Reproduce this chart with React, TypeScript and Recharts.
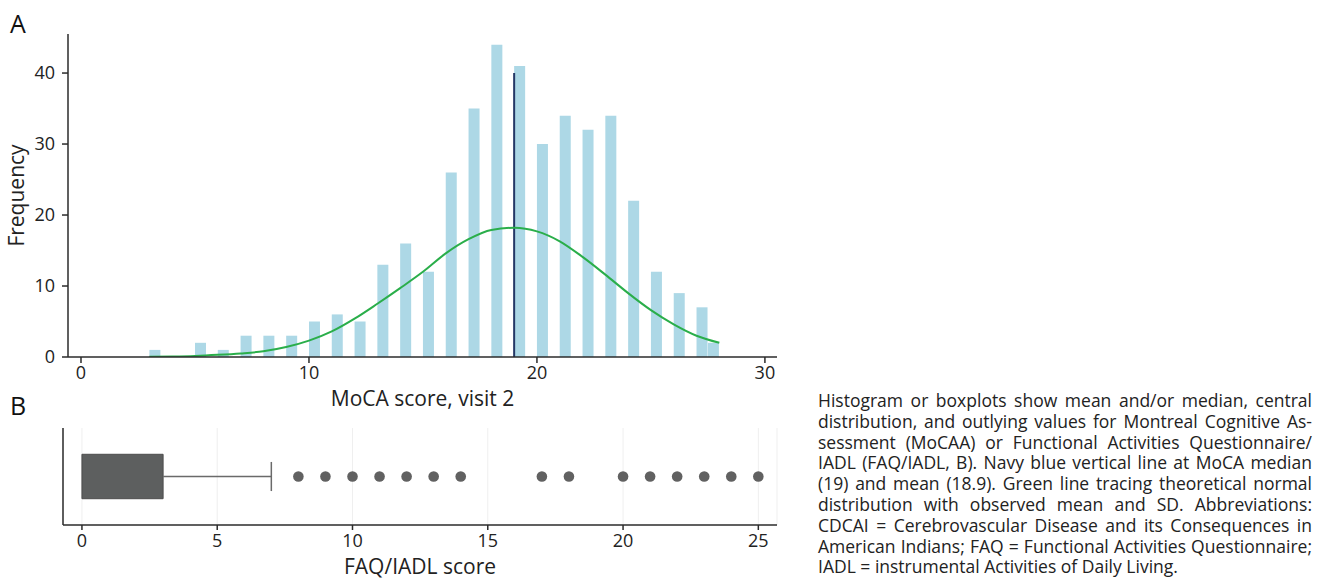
import {
  Bar,
  CartesianGrid,
  ComposedChart,
  Label,
  Line,
  ReferenceArea,
  ReferenceLine,
  Scatter,
  XAxis,
  YAxis,
} from "recharts";

// Panel A: MoCA histogram (bins are 0.5 wide, last bin is right-closed)
const binStart = [3, 5, 6, 7, 8, 9, 10, 11, 12, 13, 14, 15, 16, 17, 18, 19, 20, 21, 22, 23, 24, 25, 26, 27, 27.5];
const binCount = [1, 2, 1, 3, 3, 3, 5, 6, 5, 13, 16, 12, 26, 35, 44, 41, 30, 34, 32, 34, 22, 12, 9, 7, 2];
const BIN_WIDTH = 0.5;

// green normal-fit curve
const fitScore = [3, 4, 5, 6, 7, 8, 9, 10, 11, 12, 13, 14, 15, 16, 17, 18, 19, 20, 21, 22, 23, 24, 25, 26, 27, 28];
const fitFreq = [0.03, 0.07, 0.15, 0.3, 0.5, 0.8, 1.4, 2.3, 3.6, 5.4, 7.5, 9.7, 12.0, 14.6, 16.6, 17.9, 18.2, 17.7, 16.3, 14.1, 11.6, 9.0, 6.6, 4.6, 3.0, 2.0];

const MOCA_MEDIAN = 19;
const MEDIAN_LINE_TOP = 40;

const mocaTicks = [0, 10, 20, 30];
const freqTicks = [0, 10, 20, 30, 40];

// Panel B: FAQ/IADL boxplot
const FAQ_Q1 = 0;
const FAQ_Q3 = 3;
const FAQ_WHISKER_HI = 7;
const faqOutliers = [8, 9, 10, 11, 12, 13, 14, 17, 18, 20, 21, 22, 23, 24, 25];
const faqTicks = [0, 5, 10, 15, 20, 25];

const captionLines = [
  "Histogram or boxplots show mean and/or median, central",
  "distribution, and outlying values for Montreal Cognitive As-",
  "sessment (MoCAA) or Functional Activities Questionnaire/",
  "IADL (FAQ/IADL, B). Navy blue vertical line at MoCA median",
  "(19) and mean (18.9). Green line tracing theoretical normal",
  "distribution with observed mean and SD. Abbreviations:",
  "CDCAI = Cerebrovascular Disease and its Consequences in",
  "American Indians; FAQ = Functional Activities Questionnaire;",
  "IADL = instrumental Activities of Daily Living.",
];

const binRows = binStart.map((s, i) => ({ x: s + BIN_WIDTH / 2, freq: binCount[i] }));
const fitRows = fitScore.map((s, i) => ({ x: s, fit: fitFreq[i] }));
const outlierRows = faqOutliers.map((v) => ({ x: v, y: 0.5 }));

const FONT = "'Open Sans', sans-serif";
const AXIS = "#2b2b2b";
const TEXT = "#222";
const tickStyle = { fontSize: 18, fill: TEXT, fontFamily: FONT };
const titleStyle = { fontSize: 21, fill: TEXT, fontFamily: FONT };
const MOCA_DOMAIN: [number, number] = [-0.57, 30.53];

function MocaHistogram() {
  return (
    <ComposedChart
      width={800}
      height={420}
      data={binRows}
      margin={{ top: 34, right: 23, bottom: 33, left: 0 }}
    >
      <XAxis
        type="number"
        dataKey="x"
        domain={MOCA_DOMAIN}
        ticks={mocaTicks}
        allowDataOverflow
        height={30}
        tickSize={6}
        tickMargin={3}
        axisLine={{ stroke: AXIS, strokeWidth: 1.5 }}
        tickLine={{ stroke: AXIS, strokeWidth: 1.5 }}
        tick={tickStyle}
      >
        <Label value="MoCA score, visit 2" position="bottom" offset={4} style={titleStyle} />
      </XAxis>
      {/* separate hidden axis so the curve points don't shrink the bar band */}
      <XAxis xAxisId="fit" type="number" dataKey="x" domain={MOCA_DOMAIN} allowDataOverflow hide />
      <YAxis
        type="number"
        domain={[0, 45.5]}
        ticks={freqTicks}
        allowDataOverflow
        width={68}
        tickSize={6}
        tickMargin={7}
        axisLine={{ stroke: AXIS, strokeWidth: 1.5 }}
        tickLine={{ stroke: AXIS, strokeWidth: 1.5 }}
        tick={tickStyle}
      >
        <Label
          value="Frequency"
          angle={-90}
          position="insideLeft"
          offset={17}
          style={{ ...titleStyle, textAnchor: "middle" }}
        />
      </YAxis>
      <Bar dataKey="freq" barSize={11} fill="#add8e6" isAnimationActive={false} />
      <ReferenceLine
        segment={[
          { x: MOCA_MEDIAN, y: 0 },
          { x: MOCA_MEDIAN, y: MEDIAN_LINE_TOP },
        ]}
        stroke="#243866"
        strokeWidth={2}
      />
      <Line
        xAxisId="fit"
        data={fitRows}
        type="monotone"
        dataKey="fit"
        stroke="#2aae4a"
        strokeWidth={2}
        dot={false}
        isAnimationActive={false}
      />
    </ComposedChart>
  );
}

function FaqBoxplot() {
  return (
    <ComposedChart width={800} height={180} margin={{ top: 28, right: 23, bottom: 25, left: 0 }}>
      <CartesianGrid horizontal={false} stroke="#efefef" />
      <XAxis
        type="number"
        dataKey="x"
        domain={[-0.7, 25.69]}
        ticks={faqTicks}
        allowDataOverflow
        height={30}
        tickSize={5}
        tickMargin={4}
        axisLine={{ stroke: AXIS, strokeWidth: 1.5 }}
        tickLine={{ stroke: AXIS, strokeWidth: 1.5 }}
        tick={tickStyle}
      >
        <Label value="FAQ/IADL score" position="bottom" offset={4} style={titleStyle} />
      </XAxis>
      <YAxis
        type="number"
        dataKey="y"
        domain={[0, 1]}
        width={63}
        tick={false}
        tickLine={false}
        axisLine={{ stroke: AXIS, strokeWidth: 1.5 }}
      />
      <ReferenceLine
        segment={[
          { x: FAQ_Q3, y: 0.5 },
          { x: FAQ_WHISKER_HI, y: 0.5 },
        ]}
        stroke="#6a6a6a"
        strokeWidth={1.5}
      />
      <ReferenceLine
        segment={[
          { x: FAQ_WHISKER_HI, y: 0.35 },
          { x: FAQ_WHISKER_HI, y: 0.65 },
        ]}
        stroke="#6a6a6a"
        strokeWidth={1.5}
      />
      <ReferenceArea
        x1={FAQ_Q1}
        x2={FAQ_Q3}
        y1={0.271}
        y2={0.729}
        fill="#5d5f5f"
        fillOpacity={1}
        stroke="#4d4d4d"
        strokeWidth={1}
      />
      <Scatter
        data={outlierRows}
        dataKey="y"
        isAnimationActive={false}
        shape={(p: any) => <circle cx={p.cx} cy={p.cy} r={5.3} fill="#616161" />}
      />
    </ComposedChart>
  );
}

export default function App() {
  return (
    <div
      style={{
        position: "absolute",
        left: 0,
        top: 0,
        width: 1325,
        height: 580,
        background: "#fff",
        fontFamily: FONT,
        overflow: "hidden",
      }}
    >
      <div style={{ position: "absolute", left: 0, top: 0 }}>
        <MocaHistogram />
      </div>
      <div style={{ position: "absolute", left: 0, top: 400 }}>
        <FaqBoxplot />
      </div>
      <svg
        width={1325}
        height={580}
        style={{ position: "absolute", left: 0, top: 0, pointerEvents: "none" }}
      >
        <text x={10} y={33} fontSize={25} fill="#111" fontFamily={FONT}>
          A
        </text>
        <text x={10} y={414.5} fontSize={25} fill="#111" fontFamily={FONT}>
          B
        </text>
      </svg>
      <div
        style={{
          position: "absolute",
          left: 818,
          top: 390,
          width: 494,
          fontSize: 17.5,
          lineHeight: "20.8px",
          color: TEXT,
        }}
      >
        {captionLines.map((line, i) => (
          <div
            key={i}
            style={{
              whiteSpace: "nowrap",
              textAlign: "justify",
              textAlignLast: i === captionLines.length - 1 ? "left" : "justify",
            }}
          >
            {line}
          </div>
        ))}
      </div>
    </div>
  );
}
